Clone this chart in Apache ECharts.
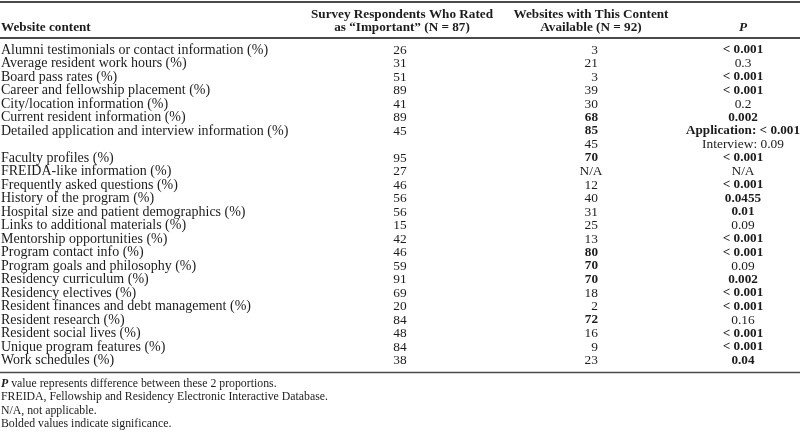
<!DOCTYPE html>
<html>
<head>
<meta charset="utf-8">
<script src="https://cdn.jsdelivr.net/npm/echarts@6/dist/echarts.min.js"></script>
<style>html,body{margin:0;padding:0;background:#fff}#c{width:800px;height:432px}</style>
</head>
<body>
<div id="c"></div>
<script>
// ---------- data ----------
const content = [
  'Alumni testimonials or contact information (%)',
  'Average resident work hours (%)',
  'Board pass rates (%)',
  'Career and fellowship placement (%)',
  'City/location information (%)',
  'Current resident information (%)',
  'Detailed application and interview information (%)',
  'Faculty profiles (%)',
  'FREIDA-like information (%)',
  'Frequently asked questions (%)',
  'History of the program (%)',
  'Hospital size and patient demographics (%)',
  'Links to additional materials (%)',
  'Mentorship opportunities (%)',
  'Program contact info (%)',
  'Program goals and philosophy (%)',
  'Residency curriculum (%)',
  'Residency electives (%)',
  'Resident finances and debt management (%)',
  'Resident research (%)',
  'Resident social lives (%)',
  'Unique program features (%)',
  'Work schedules (%)'
];
const survey = [26, 31, 51, 89, 41, 89, 45, 95, 27, 46, 56, 56, 15, 42, 46, 59, 91, 69, 20, 84, 48, 84, 38];
const websites = [3, 21, 3, 39, 30, 68, 85, 70, null, 12, 40, 31, 25, 13, 80, 70, 70, 18, 2, 72, 16, 9, 23];
const websitesBold = [0, 0, 0, 0, 0, 1, 1, 1, 0, 0, 0, 0, 0, 0, 1, 1, 1, 0, 0, 1, 0, 0, 0];
const pValues = ['< 0.001', '0.3', '< 0.001', '< 0.001', '0.2', '0.002', 'Application: < 0.001', '< 0.001', 'N/A',
  '< 0.001', '0.0455', '0.01', '0.09', '< 0.001', '< 0.001', '0.09', '0.002', '< 0.001', '< 0.001', '0.16',
  '< 0.001', '< 0.001', '0.04'];
const pBold = [1, 0, 1, 1, 0, 1, 1, 1, 0, 1, 1, 1, 0, 1, 1, 0, 1, 1, 1, 0, 1, 1, 1];
const subRowAfter = 'Detailed application and interview information (%)';
const interviewWebsites = 45;
const interviewP = 'Interview: 0.09';
const headerWebsite = ['Website content'];
const headerSurvey = ['Survey Respondents Who Rated', 'as \u201cImportant\u201d (N = 87)'];
const headerSites = ['Websites with This Content', 'Available (N = 92)'];
const headerP = ['P'];
const footnotes = [
  'P| value represents difference between these 2 proportions.',
  'FREIDA, Fellowship and Residency Electronic Interactive Database.',
  'N/A, not applicable.',
  'Bolded values indicate significance.'
];

// ---------- layout ----------
const FONT = '"Liberation Serif", "Times New Roman", serif';
const INK = '#1c1c1c';
const ROW_H = 13.5, FIRST_ROW_PX = 50, H = 432;
const COL = { name: 1, survey: 400, sites: 598, sitesNA: 591, p: 743, hSurvey: 402, hSites: 591, hP: 743 };
const NAME_SIZE = 14, VAL_SIZE = 13.4, BOLD_SIZE = 13.2, HEAD_SIZE = 13.2, NOTE_SIZE = 11.8;
const px2row = p => (p - FIRST_ROW_PX) / ROW_H;

// build display rows
const rows = [];
content.forEach((name, i) => {
  rows.push({ name, s: String(survey[i]), w: websites[i] == null ? 'N/A' : String(websites[i]),
    wBold: !!websitesBold[i], p: pValues[i], pBold: !!pBold[i] });
  if (name === subRowAfter) {
    rows.push({ name: '', s: '', w: String(interviewWebsites), wBold: false, p: interviewP, pBold: false });
  }
});

function txt(pt, text, align, opts) {
  opts = opts || {};
  const size = opts.size || (opts.bold ? BOLD_SIZE : VAL_SIZE);
  return {
    type: 'text', x: pt[0], y: pt[1],
    style: {
      text, fill: INK, align, verticalAlign: 'middle',
      fontFamily: FONT, fontSize: size,
      fontWeight: opts.bold ? 'bold' : 'normal', fontStyle: opts.italic ? 'italic' : 'normal',
      rich: opts.rich
    }
  };
}

const chart = echarts.init(document.getElementById('c'), null, { renderer: 'canvas' });
chart.setOption({
  animation: false,
  backgroundColor: '#fff',
  grid: { left: 0, right: 0, top: 0, bottom: 0 },
  xAxis: { type: 'value', min: 0, max: 800, show: false },
  yAxis: { type: 'value', inverse: true, min: px2row(0), max: px2row(H), show: false },
  series: [
    {
      type: 'custom', name: 'rules', silent: true,
      data: [[0, px2row(2), 2], [0, px2row(38), 2], [0, px2row(372.5), 1.6]],
      renderItem(params, api) {
        const a = api.coord([0, api.value(1)]), b = api.coord([800, api.value(1)]);
        return { type: 'line', shape: { x1: a[0], y1: a[1], x2: b[0], y2: b[1] },
          style: { stroke: '#4a4a4a', lineWidth: api.value(2) } };
      }
    },
    {
      type: 'custom', name: 'header', silent: true,
      data: [[0, 0]],
      renderItem(params, api) {
        const l1 = px2row(15), l2 = px2row(28);
        const o = { bold: true, size: HEAD_SIZE };
        const c = [];
        c.push(txt(api.coord([COL.name, l2]), headerWebsite[0], 'left', o));
        c.push(txt(api.coord([COL.hSurvey, l1]), headerSurvey[0], 'center', o));
        c.push(txt(api.coord([COL.hSurvey, l2]), headerSurvey[1], 'center', o));
        c.push(txt(api.coord([COL.hSites, l1]), headerSites[0], 'center', o));
        c.push(txt(api.coord([COL.hSites, l2]), headerSites[1], 'center', o));
        c.push(txt(api.coord([COL.hP, l2]), headerP[0], 'center', { bold: true, italic: true, size: HEAD_SIZE }));
        return { type: 'group', children: c };
      }
    },
    {
      type: 'custom', name: 'body', silent: true,
      data: rows.map((r, i) => [0, i]),
      renderItem(params, api) {
        const r = rows[params.dataIndex];
        const y = api.value(1);
        const c = [];
        if (r.name) c.push(txt(api.coord([COL.name, y]), r.name, 'left', { size: NAME_SIZE }));
        if (r.s) c.push(txt(api.coord([COL.survey, y]), r.s, 'center'));
        if (r.w === 'N/A') c.push(txt(api.coord([COL.sitesNA, y]), r.w, 'center'));
        else c.push(txt(api.coord([COL.sites, y]), r.w, 'right', { bold: r.wBold }));
        c.push(txt(api.coord([COL.p, y]), r.p, 'center', { bold: r.pBold }));
        return { type: 'group', children: c };
      }
    },
    {
      type: 'custom', name: 'notes', silent: true,
      data: footnotes.map((f, i) => [0, px2row(384 + i * 13.3)]),
      renderItem(params, api) {
        const f = footnotes[params.dataIndex];
        const pt = api.coord([COL.name, api.value(1)]);
        if (f.indexOf('|') >= 0) {
          const parts = f.split('|');
          return txt(pt, '{b|' + parts[0] + '}' + parts[1], 'left', {
            size: NOTE_SIZE,
            rich: { b: { fontFamily: FONT, fontSize: NOTE_SIZE, fontWeight: 'bold', fontStyle: 'italic', fill: INK } }
          });
        }
        return txt(pt, f, 'left', { size: NOTE_SIZE });
      }
    }
  ]
});
</script>
</body>
</html>
